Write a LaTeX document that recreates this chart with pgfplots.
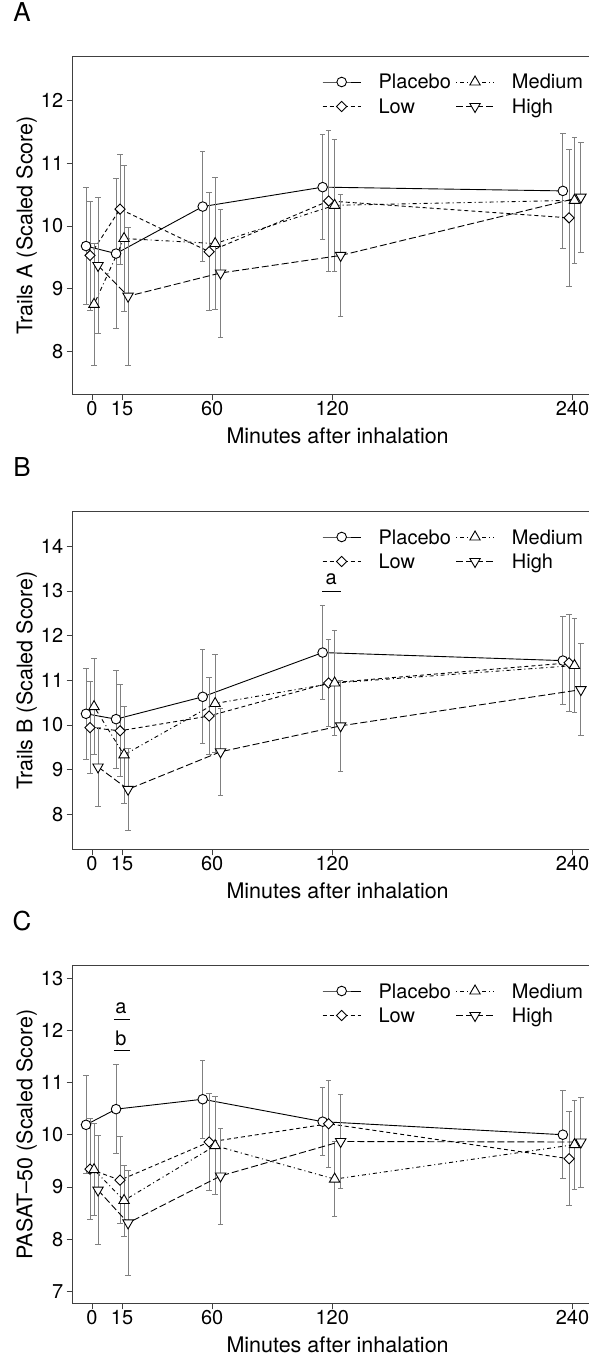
\documentclass[border=0pt]{standalone}
\usepackage{pgfplots}
\pgfplotsset{compat=1.18}
\usepackage{pgfplotstable}
\usepackage{fontspec}
\setmainfont{TeX Gyre Heros}

\pgfplotstableread{
xP yP eP xL yL eL xM yM eM xH yH eH
-3 9.68 0.93 -1 9.53 0.87 1 8.75 0.98 3 9.37 1.08
12 9.56 1.20 14 10.27 0.88 16 9.80 1.17 18 8.88 1.10
55.3 10.31 0.88 58.5 9.59 0.94 61.5 9.72 1.05 64.2 9.25 1.02
115.2 10.62 0.84 118.2 10.40 1.13 121.2 10.33 1.05 124.2 9.53 0.98
235.2 10.56 0.92 238.3 10.13 1.10 241 10.41 1.00 244.2 10.46 0.88
}\dataA

\pgfplotstableread{
xP yP eP xL yL eL xM yM eM xH yH eH
-3 10.25 1.02 -1 9.94 1.03 1 10.41 1.08 3 9.06 0.89
12 10.13 1.10 14 9.87 1.03 16 9.33 1.08 18 8.56 0.92
55.3 10.63 1.05 58.5 10.20 0.86 61.5 10.48 1.09 64.2 9.40 0.98
115.2 11.62 1.05 118.2 10.94 0.98 121.2 10.94 1.18 124.2 9.98 1.01
235.2 11.44 0.98 238.3 11.39 1.08 241 11.33 1.05 244.2 10.79 1.03
}\dataB

\pgfplotstableread{
xP yP eP xL yL eL xM yM eM xH yH eH
-3 10.19 0.94 -1 9.34 0.97 1 9.33 0.88 3 8.94 1.05
12 10.49 0.85 14 9.13 0.83 16 8.74 0.68 18 8.31 1.00
55.3 10.68 0.75 58.5 9.86 0.93 61.5 9.79 0.94 64.2 9.21 0.92
115.2 10.25 0.65 118.2 10.21 0.84 121.2 9.15 0.72 124.2 9.87 0.90
235.2 10.00 0.84 238.3 9.54 0.90 241 9.81 0.85 244.2 9.86 0.86
}\dataC

\newcommand{\fs}{\fontsize{20}{24}\selectfont}
\newcommand{\fl}{\fontsize{21.5}{25}\selectfont}

\pgfplotsset{
  panel/.style={
    scale only axis, width=529.8pt, height=337.5pt,
    xmin=-9.65, xmax=255,
    xtick={0,15,60,120,240},
    tick pos=left, tick align=outside, major tick length=6pt,
    tick style={black!75, line width=0.8pt},
    axis line style={black!75, line width=0.8pt},
    /pgf/number format/assume math mode=true,
    ticklabel style={font=\fs},
    xticklabel style={yshift=3pt},
    xlabel={Minutes after inhalation},
    every axis x label/.style={at={(axis description cs:0.5,-0.1235)}, anchor=center, font=\fl},
    every axis y label/.style={at={(axis description cs:-0.0868,0.5)}, rotate=90, anchor=center, font=\fl},
    title style={at={(axis description cs:-0.0957,1.088)}, anchor=base, font=\fontsize{26}{30}\selectfont},
    legend columns=2, transpose legend, legend cell align=left,
    legend image code/.code={\draw[mark repeat=2,mark phase=2,##1] plot coordinates {(0pt,0pt) (19pt,0pt) (38pt,0pt)}; \path (55.5pt,0pt);},
    legend style={draw=none, fill=none, inner sep=0pt, font=\fs,
      at={(axis description cs:0.4706,0.9467)}, anchor=north west,
      row sep=10.5pt, column sep=0pt,
      nodes={inner sep=0pt, text height=14pt, text depth=0pt},
      /tikz/every even column/.append style={column sep=4.7pt}},
  },
  errs/.style={error bars/.cd, y dir=both, y explicit,
    error bar style={black!50, line width=0.8pt, solid},
    error mark options={rotate=90, mark size=2.7pt, black!50, line width=0.8pt, solid}},
  sP/.style={black, line width=0.9pt, solid, mark=*, mark size=4.8pt, mark options={solid, fill=white, draw=black}},
  sL/.style={black, line width=0.9pt, dash pattern=on 4pt off 3pt, mark=square*, mark size=3.6pt, mark options={solid, rotate=45, fill=white, draw=black}},
  sM/.style={black, line width=0.9pt, dash pattern=on 1pt off 3pt on 4pt off 3pt, mark=triangle*, mark size=6pt, mark options={solid, fill=white, draw=black}},
  sH/.style={black, line width=0.9pt, dash pattern=on 7pt off 3pt, mark=triangle*, mark size=6pt, mark options={solid, rotate=180, fill=white, draw=black}},
}

\begin{document}
\begin{tikzpicture}
\path[use as bounding box] (0pt,0pt) rectangle (589pt,-1355pt);

% Panel A
\begin{axis}[panel, at={(72.7pt,-394.3pt)}, anchor=south west,
  ymin=7.314, ymax=12.70, ytick={8,9,10,11,12},
  ylabel={Trails A (Scaled Score)}, title={A}]
\addplot[sP, errs] table[x=xP, y=yP, y error=eP] {\dataA};
\addplot[sL, errs] table[x=xL, y=yL, y error=eL] {\dataA};
\addplot[sM, errs] table[x=xM, y=yM, y error=eM] {\dataA};
\addplot[sH, errs] table[x=xH, y=yH, y error=eH] {\dataA};
\legend{Placebo, Low, Medium, High}
\end{axis}

% Panel B
\begin{axis}[panel, at={(72.7pt,-849.3pt)}, anchor=south west,
  ymin=7.217, ymax=14.77, ytick={8,9,10,11,12,13,14},
  ylabel={Trails B (Scaled Score)}, title={B}]
\addplot[sP, errs] table[x=xP, y=yP, y error=eP] {\dataB};
\addplot[sL, errs] table[x=xL, y=yL, y error=eL] {\dataB};
\addplot[sM, errs] table[x=xM, y=yM, y error=eM] {\dataB};
\addplot[sH, errs] table[x=xH, y=yH, y error=eH] {\dataB};
\legend{Placebo, Low, Medium, High}
\draw[black, line width=0.8pt] (axis cs:115,12.99) -- (axis cs:124.5,12.99);
\node[font=\fs, anchor=center] at (axis cs:119.5,13.26) {a};
\end{axis}

% Panel C
\begin{axis}[panel, at={(72.7pt,-1303.3pt)}, anchor=south west,
  ymin=6.77, ymax=13.236, ytick={7,8,9,10,11,12,13},
  ylabel={PASAT\textendash50 (Scaled Score)}, title={C}]
\addplot[sP, errs] table[x=xP, y=yP, y error=eP] {\dataC};
\addplot[sL, errs] table[x=xL, y=yL, y error=eL] {\dataC};
\addplot[sM, errs] table[x=xM, y=yM, y error=eM] {\dataC};
\addplot[sH, errs] table[x=xH, y=yH, y error=eH] {\dataC};
\legend{Placebo, Low, Medium, High}
\draw[black, line width=0.8pt] (axis cs:10.9,12.20) -- (axis cs:18.8,12.20);
\node[font=\fs, anchor=center] at (axis cs:14.5,12.43) {a};
\draw[black, line width=0.8pt] (axis cs:10.9,11.61) -- (axis cs:18.8,11.61);
\node[font=\fs, anchor=center] at (axis cs:14.5,11.84) {b};
\end{axis}
\end{tikzpicture}
\end{document}
